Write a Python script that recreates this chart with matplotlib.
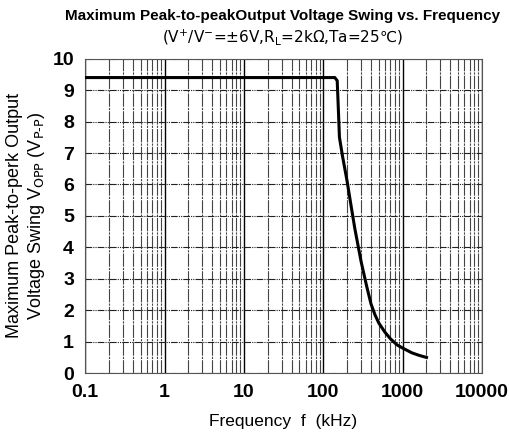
import matplotlib
matplotlib.use("Agg")
import matplotlib.pyplot as plt
from matplotlib.ticker import LogLocator, NullFormatter, FixedLocator

# data
freq_khz = [0.1, 140, 150, 155, 160, 175, 200, 225, 250, 275, 300, 350, 400, 450, 500, 600, 700, 850, 1000, 1300, 1600, 2000]
vopp = [9.4, 9.4, 9.3, 8.4, 7.5, 6.9, 6.1, 5.3, 4.6, 4.05, 3.55, 2.8, 2.2, 1.85, 1.6, 1.3, 1.1, 0.9, 0.8, 0.65, 0.57, 0.5]
x_ticks = [0.1, 1, 10, 100, 1000, 10000]
x_labels = ["0.1", "1", "10", "100", "1000", "10000"]
y_ticks = list(range(0, 11))

plt.rcParams["font.family"] = ["Liberation Sans", "DejaVu Sans"]

fig = plt.figure(figsize=(5.1, 4.48), dpi=100)
ax = fig.add_axes([0.167, 0.167, 0.778, 0.702])

ax.plot(freq_khz, vopp, color="black", linewidth=2.2, zorder=3)

ax.set_xscale("log")
ax.set_xlim(0.1, 10000)
ax.set_ylim(0, 10)
ax.xaxis.set_major_locator(FixedLocator(x_ticks))
ax.set_xticklabels(x_labels)
ax.xaxis.set_minor_locator(LogLocator(base=10, subs=range(2, 10), numticks=20))
ax.xaxis.set_minor_formatter(NullFormatter())
ax.set_yticks(y_ticks)

ax.grid(which="major", axis="x", color="black", linewidth=1.0, linestyle="-")
ax.grid(which="minor", axis="x", color="#444444", linewidth=0.8, linestyle=(0, (12, 1, 2, 1)))
ax.grid(which="major", axis="y", color="#222222", linewidth=0.8, linestyle=(0, (6, 1, 1, 1, 1, 1)))

ax.tick_params(which="both", length=0, labelsize=14, pad=8)
for lbl in ax.get_xticklabels() + ax.get_yticklabels():
    lbl.set_fontweight("bold")
for s in ax.spines.values():
    s.set_color("#555555")
    s.set_linewidth(0.8)

ax.set_xlabel("Frequency  f  (kHz)", fontsize=12.5, labelpad=9)
ax.set_ylabel("Maximum Peak-to-perk Output\nVoltage Swing V$_{\\rm OPP}$ (V$_{\\rm P\u2010P}$)",
              fontsize=13, labelpad=4)

fig.text(0.555, 0.965, "Maximum Peak-to-peakOutput Voltage Swing vs. Frequency",
         ha="center", va="center", fontsize=11, fontweight="bold")
fig.text(0.555, 0.918, "(V$^{+}$/V$^{-}$=±6V,R$_{\\rm L}$=2kΩ,Ta=25\u2103)",
         ha="center", va="center", fontsize=11, family=["DejaVu Sans"])

fig.savefig("out.png", dpi=100)
